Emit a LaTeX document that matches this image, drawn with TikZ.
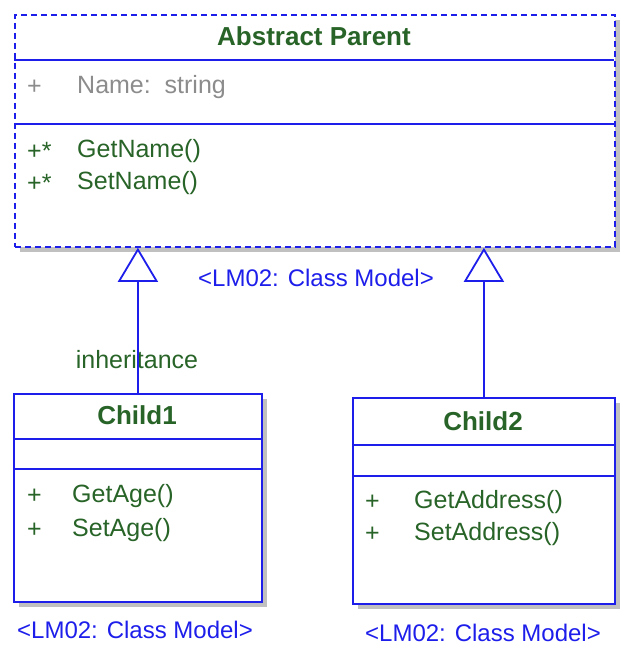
\documentclass[tikz,border=0pt]{standalone}
\usepackage{fontspec}
\setmainfont{Liberation Sans}
\usetikzlibrary{arrows.meta,shadows}
\definecolor{umlblue}{RGB}{30,30,235}
\definecolor{umlgreen}{RGB}{40,100,40}
\definecolor{umlgray}{RGB}{140,140,140}
\definecolor{shadowgray}{RGB}{192,192,192}
\tikzset{
  classbox/.style={draw=umlblue, line width=1.8pt, fill=white, rectangle, inner sep=0pt,
    anchor=north west, drop shadow={shadow xshift=5pt, shadow yshift=-5pt, fill=shadowgray, opacity=1}},
  sep/.style={draw=umlblue, line width=1.8pt},
  title/.style={font=\fontsize{26}{26}\selectfont\bfseries, text=umlgreen, inner sep=0pt},
  member/.style={font=\fontsize{25}{25}\selectfont, text=umlgreen, inner sep=0pt, anchor=west},
  attr/.style={member, text=umlgray},
  modellabel/.style={font=\fontsize{24}{24}\selectfont, text=umlblue, inner sep=0pt},
  inherit/.style={draw=umlblue, line width=1.8pt,
    -{Triangle[open, width=40pt, length=34pt, fill=white, line width=1.8pt]}},
}
\begin{document}
\begin{tikzpicture}[x=1pt,y=-1pt]
\useasboundingbox (0,0) rectangle (621,650);
% Parent
\node[classbox, dashed, dash pattern=on 6pt off 4pt, minimum width=600pt, minimum height=232pt] (parent) at (14,14) {};
\draw[sep] (14,60) -- (614,60);
\draw[sep] (14,124) -- (614,124);
\node[title] (ptitle) at (314,36) {Abstract Parent};
\node[attr] (pattrvis) at (27,87) {+};
\node[attr] (pattr) at (77,87) {Name:\ \ string};
\node[member] (pm1vis) at (27,151) {+*};
\node[member] (pm1) at (77,151) {GetName()};
\node[member] (pm2vis) at (27,183) {+*};
\node[member] (pm2) at (77,183) {SetName()};
\node[modellabel] (plabel) at (316,278) {<LM02: Class Model>};
% Child1
\node[classbox, minimum width=248pt, minimum height=208pt] (c1) at (13,393) {};
\draw[sep] (13,439) -- (261,439);
\draw[sep] (13,469) -- (261,469);
\node[title] (c1title) at (137,415) {Child1};
\node[member] (c1m1vis) at (27,496) {+};
\node[member] (c1m1) at (72,496) {GetAge()};
\node[member] (c1m2vis) at (27,530) {+};
\node[member] (c1m2) at (72,530) {SetAge()};
\node[modellabel] (c1label) at (135,630) {<LM02: Class Model>};
% Child2
\node[classbox, minimum width=262pt, minimum height=206pt] (c2) at (352,397) {};
\draw[sep] (352,445) -- (614,445);
\draw[sep] (352,476) -- (614,476);
\node[title] (c2title) at (483,421) {Child2};
\node[member] (c2m1vis) at (365,502) {+};
\node[member] (c2m1) at (414,502) {GetAddress()};
\node[member] (c2m2vis) at (365,534) {+};
\node[member] (c2m2) at (414,534) {SetAddress()};
\node[modellabel] (c2label) at (483,633) {<LM02: Class Model>};
% Inheritance
\node[member, anchor=center] (inhlabel) at (137,360) {inheritance};
\draw[inherit] (c1.north) -- (c1.north |- parent.south);
\draw[inherit] (c2.north) -- (c2.north |- parent.south);
\end{tikzpicture}
\end{document}
